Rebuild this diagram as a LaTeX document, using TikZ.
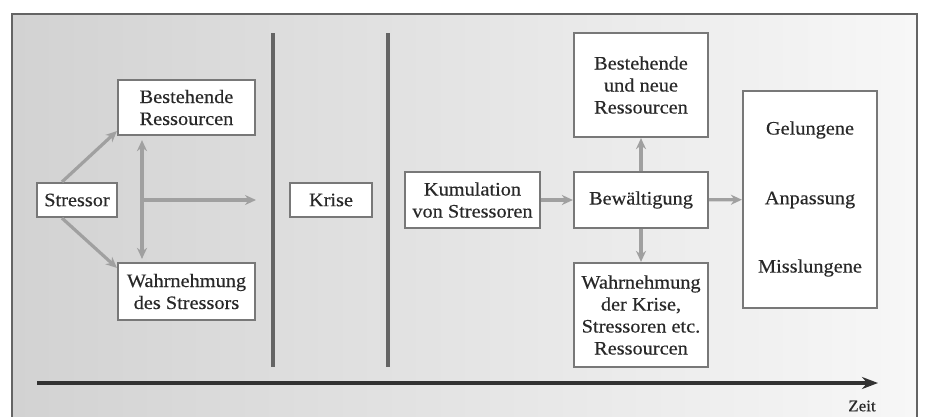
\documentclass[tikz,border=0pt]{standalone}
\usepackage{fontspec}
\setmainfont{Liberation Serif}
\newfontfamily\semib[FakeBold=0.4,FakeStretch=1.07]{Liberation Serif}
\usetikzlibrary{arrows.meta,calc}
\definecolor{bgL}{RGB}{210,210,210}
\definecolor{bgR}{RGB}{247,247,247}
\definecolor{frameC}{RGB}{100,100,100}
\definecolor{boxC}{RGB}{120,120,120}
\definecolor{arrC}{RGB}{160,160,160}
\definecolor{txtC}{RGB}{40,40,40}
\definecolor{axisC}{RGB}{50,50,50}
\tikzset{
  boxn/.style={draw=boxC, line width=2.2pt, fill=white, inner sep=0pt, align=center,
    text=txtC, font=\semib\fontsize{19}{22}\selectfont},
  lbl/.style={text=txtC, font=\semib\fontsize{19}{22}\selectfont, inner sep=0pt},
  garr/.style={draw=arrC, line width=3.2pt, -{Stealth[length=11pt,width=10pt]}},
  divider/.style={draw=frameC, line width=3.6pt}
}
\begin{document}
\begin{tikzpicture}[x=1pt,y=-1pt]
\useasboundingbox (0,0) rectangle (927,416);
\fill[white] (0,0) rectangle (927,416);
\shade[left color=bgL, right color=bgR] (12,14) rectangle (917,420);
\draw[frameC, line width=2.6pt] (12,420) -- (12,14) -- (917,14) -- (917,420);
% dividers
\draw[divider] (273,33) -- (273,367);
\draw[divider] (388,33) -- (388,367);
% nodes
\node[boxn, minimum width=80pt, minimum height=34pt] (s) at (77,200) {Stressor};
\node[boxn, minimum width=137pt, minimum height=55pt] (b) at (186.5,107.5) {Bestehende\\Ressourcen};
\node[boxn, minimum width=137pt, minimum height=57pt] (w) at (186.5,291.5) {Wahrnehmung\\des Stressors};
\node[boxn, minimum width=82pt, minimum height=34pt] (k) at (331,200) {Krise};
\node[boxn, minimum width=135pt, minimum height=56pt] (ku) at (472.5,200) {Kumulation\\von Stressoren};
\node[boxn, minimum width=134pt, minimum height=56pt] (bew) at (641,200) {Bewältigung};
\node[boxn, minimum width=134pt, minimum height=104pt] (bn) at (641,85) {Bestehende\\und neue\\Ressourcen};
\node[boxn, minimum width=134pt, minimum height=104pt] (wk) at (641,315) {Wahrnehmung\\der Krise,\\Stressoren etc.\\Ressourcen};
\node[boxn, minimum width=134pt, minimum height=217pt] (out) at (810,199.5) {};
\node[lbl] (g) at (810,130) {Gelungene};
\node[lbl] (a) at (810,200) {Anpassung};
\node[lbl] (m) at (810,268) {Misslungene};
% connectors left part
\coordinate (vx) at (142,0);
\coordinate (hend) at (256,200);
\draw[garr] ([xshift=-15pt]s.north) -- ([yshift=5pt]b.south west);
\draw[garr] ([xshift=-15pt]s.south) -- ([yshift=-6pt]w.north west);
\draw[draw=arrC, line width=3.2pt, {Stealth[length=11pt,width=10pt]}-{Stealth[length=11pt,width=10pt]}, shorten <=4pt, shorten >=3pt] (b.south -| vx) -- (w.north -| vx);
\draw[garr] (vx |- s.east) -- (hend);
% connectors right part
\draw[garr] (ku) -- (bew);
\draw[garr] (bew) -- (out);
\draw[garr] (bew) -- (bn);
\draw[garr] (bew) -- (wk);
% time axis
\coordinate (t0) at (37,383);
\coordinate (t1) at (878,383);
\draw[axisC, line width=3.4pt, -{Stealth[length=16pt,width=12pt]}] (t0) -- (t1);
\node[lbl, font=\semib\fontsize{16}{18}\selectfont] (zeit) at (862,406) {Zeit};
\end{tikzpicture}
\end{document}
